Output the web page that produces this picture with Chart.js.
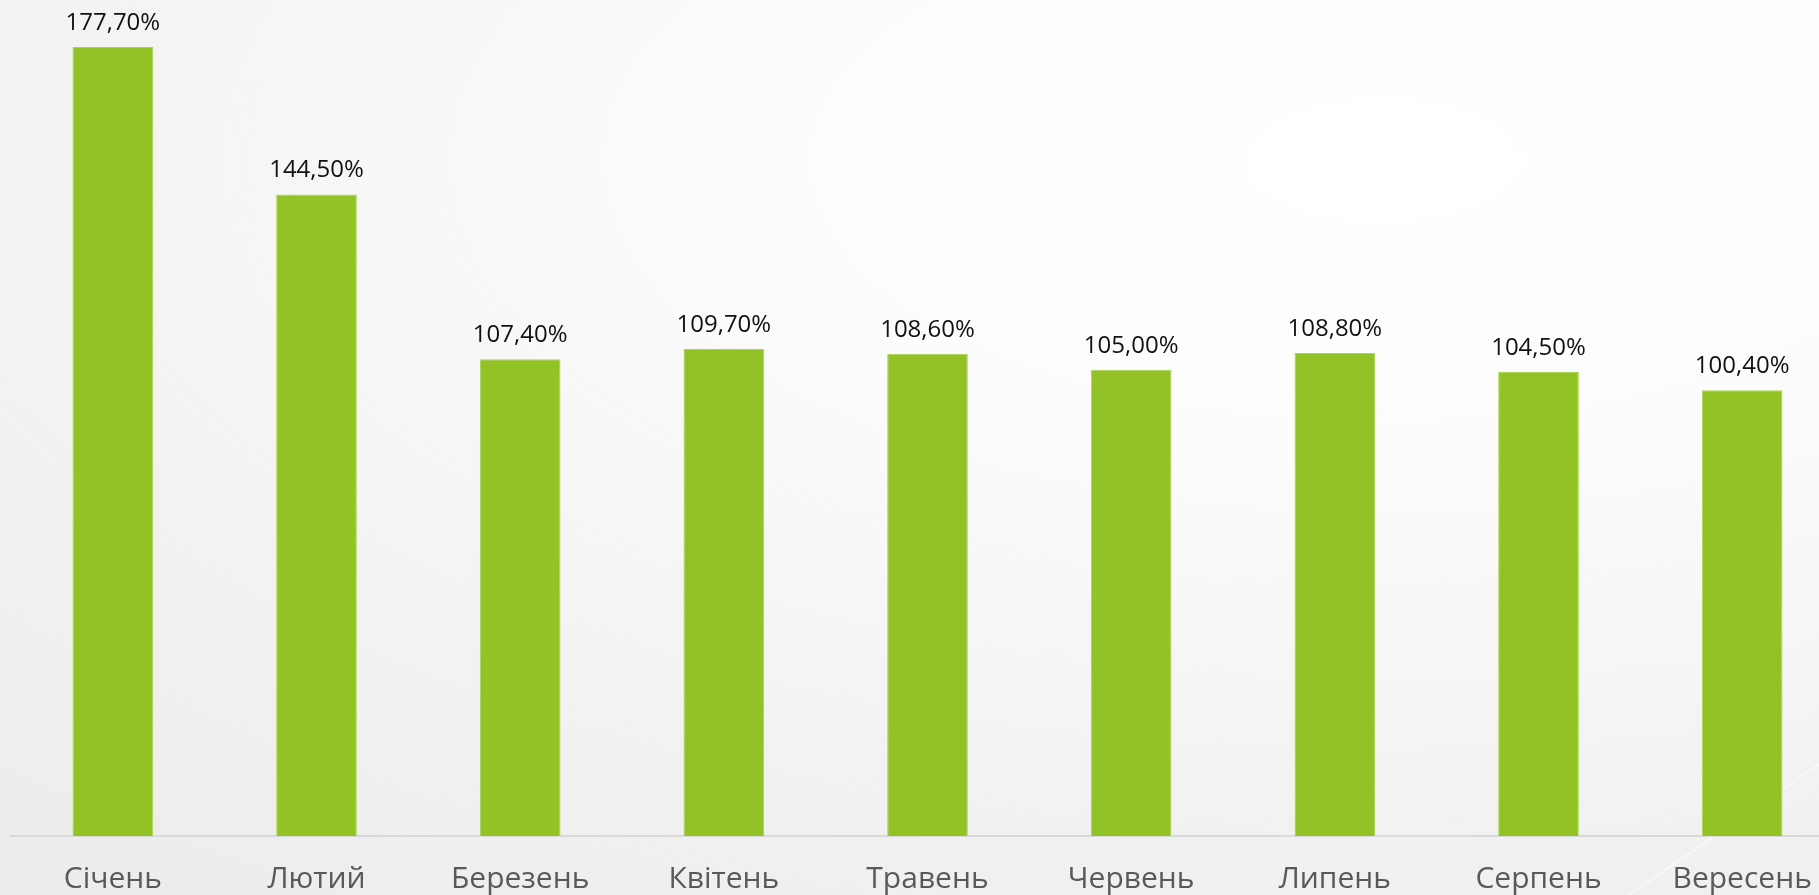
<!DOCTYPE html>
<html lang="uk">
<head>
<meta charset="utf-8">
<title>Chart</title>
<script src="https://cdn.jsdelivr.net/npm/chart.js@4.4.1/dist/chart.umd.min.js"></script>
<style>
    html, body {
        margin: 0;
        padding: 0;
        width: 1819px;
        height: 895px;
        overflow: hidden;
        background: radial-gradient(ellipse 120% 110% at 76% 18%, #ffffff 0%, #fcfcfc 30%, #f2f2f2 65%, #ebebeb 100%);
    }
    #wrap {
        position: absolute;
        left: 0;
        top: 0;
        width: 1846px;
        height: 926px;
    }
    .deco {
        position: absolute;
        left: 1628px;
        top: 895px;
        width: 260px;
        height: 0;
        border-top: 1.5px solid rgba(255, 255, 255, 0.9);
        transform-origin: 0 0;
        transform: rotate(-34.5deg);
    }
</style>
</head>
<body>
<div class="deco"></div>
<div id="wrap"><canvas id="growthChart"></canvas></div>
<script>
const months = ["Січень", "Лютий", "Березень", "Квітень", "Травень", "Червень", "Липень", "Серпень", "Вересень"];
const growth = [177.7, 144.5, 107.4, 109.7, 108.6, 105.0, 108.8, 104.5, 100.4];

// value labels above the bars, e.g. "177,70%"
const valueLabels = {
    id: "valueLabels",
    afterDatasetsDraw(chart) {
        const ctx = chart.ctx;
        const meta = chart.getDatasetMeta(0);
        ctx.save();
        ctx.font = "24px 'Open Sans'";
        ctx.fillStyle = "#111111";
        ctx.textAlign = "center";
        ctx.textBaseline = "alphabetic";
        meta.data.forEach(function(bar, i) {
            const text = growth[i].toFixed(2).replace(".", ",") + "%";
            ctx.fillText(text, bar.x, bar.y - 17);
        });
        ctx.restore();
    }
};

document.addEventListener("DOMContentLoaded", function() {
    const ctx = document.getElementById("growthChart").getContext("2d");

    new Chart(ctx, {
        type: "bar",
        data: {
            labels: months,
            datasets: [{
                data: growth,
                backgroundColor: "#92c226",
                borderColor: "#a9d550",
                borderWidth: 1,
                categoryPercentage: 1,
                barPercentage: 0.396
            }]
        },
        options: {
            responsive: true,
            maintainAspectRatio: false,
            animation: false,
            layout: {
                padding: { left: 11, right: 2, top: 0, bottom: 4 }
            },
            scales: {
                x: {
                    grid: { display: false, drawTicks: false },
                    border: { color: "#d9d9d9", width: 2 },
                    ticks: {
                        color: "#595959",
                        font: { family: "'Open Sans'", size: 30, lineHeight: 1 },
                        padding: 28,
                        maxRotation: 0
                    }
                },
                y: {
                    display: false,
                    min: 0,
                    max: 188.3
                }
            },
            plugins: {
                legend: { display: false },
                tooltip: { enabled: false }
            }
        },
        plugins: [valueLabels]
    });
});
</script>
</body>
</html>
